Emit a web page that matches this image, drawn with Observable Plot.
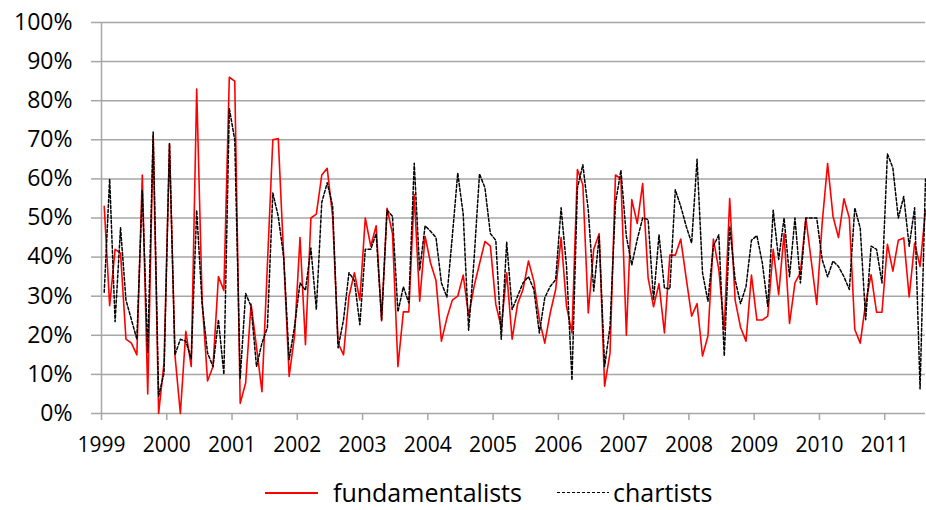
<!DOCTYPE html>
<html>
<head>
<meta charset="utf-8">
<script src="https://cdn.jsdelivr.net/npm/d3@7"></script>
<script src="https://cdn.jsdelivr.net/npm/@observablehq/plot@0.6"></script>
<style>
  html, body { margin: 0; padding: 0; background: #fff; }
  #wrap { position: relative; width: 926px; height: 510px; overflow: hidden; font-family: "Open Sans", sans-serif; }
  #legend { position: absolute; left: 0; top: 465px; width: 926px; height: 45px; }
  .sw { position: absolute; }
  .lt { position: absolute; font-size: 25px; line-height: 30px; color: #000; white-space: nowrap; }
</style>
</head>
<body>
<div id="wrap">
  <div id="chart"></div>
  <div id="legend"></div>
</div>
<script>
// Monthly values (%) starting January 1999
const startYear = 1999;
const seriesNames = ["fundamentalists", "chartists"];
const fundamentalists = [
  53, 27.6, 42, 41, 19, 18, 15, 61, 5, 71, 0, 13,
  69, 15, 0, 21, 12, 83, 29, 8.3, 12, 35, 31.5, 86,
  85, 2.6, 7.8, 28, 17, 5.6, 38, 70, 70.3, 40, 9.5, 20,
  45, 17.6, 50, 51, 61, 62.7, 50.4, 18, 15, 30, 36, 29,
  50, 42.8, 48, 23.7, 52.5, 46, 12, 26, 26, 56, 28.7, 45.3,
  38.5, 34, 18.5, 24.4, 29, 30, 35.4, 25, 32.5, 38.3, 44, 42.8,
  27.9, 22, 36, 19, 28, 31.7, 39, 33.8, 24, 18, 25.7, 31.7,
  45, 27.4, 20.6, 62.4, 58.5, 25.7, 42, 46, 7, 15.5, 61, 60,
  20, 54.7, 48.6, 58.8, 34.7, 27.3, 33.2, 20.6, 40.5, 40.5, 44.6, 34.6,
  24.9, 28.1, 14.7, 19.8, 44.6, 36.8, 21.5, 55, 29, 22, 18.5, 35.4,
  23.9, 23.9, 24.9, 42, 30.4, 46, 23, 33.4, 36, 50, 39, 27.9,
  48.7, 63.9, 50.4, 45, 54.9, 50, 21.5, 18, 28.3, 35.5, 25.9, 25.9,
  43.3, 36.4, 44.3, 44.9, 29.8, 43.6, 37.6, 52
];
const chartists = [
  31, 60, 23.5, 47.5, 29, 24, 19, 57, 15.5, 72, 4.4, 10.4,
  69, 15, 19, 18.5, 14, 52, 28, 15.5, 12, 24, 10, 78,
  70, 9, 30.7, 27.4, 12, 18, 22, 56.4, 50.4, 40, 13.8, 22.3,
  33.4, 31.5, 42.3, 26.6, 54, 59, 53, 16.8, 24, 36, 34, 22.7,
  42, 42, 46, 24, 52, 50.4, 26, 32.4, 28.3, 64, 36.6, 48,
  46.6, 45, 33.4, 29.8, 45.3, 61.5, 51, 21.3, 39.4, 61.3, 57.7, 46,
  44.3, 19, 43.8, 26.6, 30, 33.4, 35, 31.7, 20.6, 29.6, 32.5, 34.2,
  52.6, 37.6, 8.5, 57.7, 63.6, 52, 31.3, 45.3, 12, 22.3, 53.8, 62.2,
  45.3, 38, 44.5, 50, 49.6, 29, 45.7, 32.1, 31.9, 57.2, 53, 47.9,
  43.6, 65, 36, 28.7, 42.8, 45.7, 14.7, 47.9, 34.2, 28.1, 32.5, 44.3,
  45.5, 38.5, 27.4, 52, 39.4, 50, 35, 50, 33.4, 50, 50, 50,
  39.4, 35, 39, 37.6, 35, 31.7, 52.6, 47.4, 24, 42.8, 42, 33.4,
  66.4, 62.8, 50, 55.5, 42.8, 52.6, 6.3, 60
];
const xTicks = [1999, 2000, 2001, 2002, 2003, 2004, 2005, 2006, 2007, 2008, 2009, 2010, 2011];
const yTicks = [0, 10, 20, 30, 40, 50, 60, 70, 80, 90, 100];

const rows = fundamentalists.map((v, i) => ({
  t: startYear + (i + 0.5) / 12,
  f: v,
  c: chartists[i]
}));

const gridColor = "#a6a6a6";

const chart = Plot.plot({
  width: 926,
  height: 465,
  marginLeft: 101,
  marginRight: 1,
  marginTop: 22,
  marginBottom: 52,
  style: { fontFamily: "'Open Sans', sans-serif", fontSize: "21px", color: "#000", background: "#fff", overflow: "visible" },
  x: { domain: [startYear, startYear + (fundamentalists.length - 0.5) / 12], label: null },
  y: { domain: [0, 100], label: null },
  marks: [
    Plot.gridY(yTicks, { stroke: gridColor, strokeOpacity: 1, strokeWidth: 1.5 }),
    Plot.axisY(yTicks, { tickSize: 10, tickPadding: 19, stroke: gridColor, strokeWidth: 1.5, fill: "#000", fontSize: 23, tickFormat: d => d + "%", label: null }),
    Plot.axisX(xTicks, { tickSize: 7, tickPadding: 17, stroke: gridColor, strokeWidth: 1.5, fill: "#000", tickFormat: d => String(d), label: null }),
    Plot.ruleX([startYear], { stroke: gridColor, strokeWidth: 1.5 }),
    Plot.lineY(rows, { x: "t", y: "f", stroke: "#ff0000", strokeWidth: 1.6 }),
    Plot.lineY(rows, { x: "t", y: "c", stroke: "#000", strokeWidth: 1.5, strokeDasharray: "3,2" })
  ]
});
document.getElementById("chart").appendChild(chart);

// Legend
const legend = document.getElementById("legend");
function addItem(left, swWidth, swStyle, textLeft, label) {
  const s = document.createElement("div");
  s.className = "sw";
  s.style.left = left + "px";
  s.style.top = "27px";
  s.style.width = swWidth + "px";
  Object.assign(s.style, swStyle);
  legend.appendChild(s);
  const t = document.createElement("div");
  t.className = "lt";
  t.style.left = textLeft + "px";
  t.style.top = "12px";
  t.textContent = label;
  legend.appendChild(t);
}
addItem(265, 53, { height: "1.6px", background: "#ff0000" }, 333, seriesNames[0]);
addItem(557, 52, { height: "1.4px", background: "repeating-linear-gradient(to right, #000 0 3px, transparent 3px 5px)" }, 613, seriesNames[1]);
</script>
</body>
</html>
